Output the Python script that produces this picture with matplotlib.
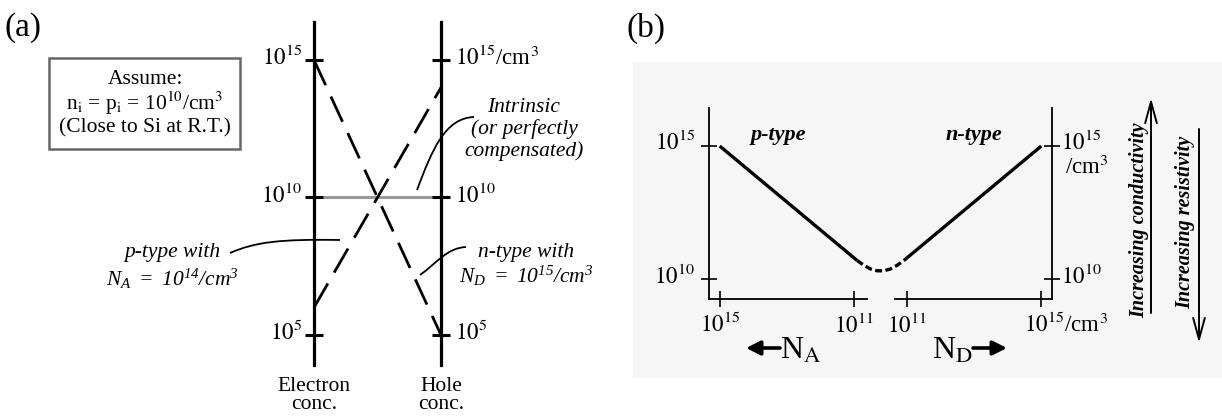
import numpy as np
import matplotlib
matplotlib.use("Agg")
import matplotlib.pyplot as plt
from matplotlib.patches import Rectangle, PathPatch
from matplotlib.path import Path
from matplotlib.ticker import NullLocator

plt.rcParams['font.family'] = ['Liberation Serif', 'DejaVu Serif']
plt.rcParams['mathtext.fontset'] = 'stix'
# 'custom' math font is only used for the italic notes (digits in italic too)
plt.rcParams['mathtext.rm'] = 'Liberation Serif:italic'
plt.rcParams['mathtext.it'] = 'Liberation Serif:italic'
plt.rcParams['mathtext.bf'] = 'Liberation Serif:bold'
plt.rcParams['lines.scale_dashes'] = False

# ---------------- (a) carrier concentrations (log10 /cm^3) ----------------
columns = ['Electron\nconc.', 'Hole\nconc.']
a_ticks = [5, 10, 15]
a_left_labels = [r'$\mathrm{10^{5}}$', r'$\mathrm{10^{10}}$', r'$\mathrm{10^{15}}$']
a_right_labels = [r'$\mathrm{10^{5}}$', r'$\mathrm{10^{10}}$', r'$\mathrm{10^{15}}$/cm$^3$']
intrinsic = [10, 10]          # n_i = p_i
n_type = [15, 5]              # N_D = 1e15 : electrons, holes
p_type = [6, 14]              # N_A = 1e14 : electrons, holes

# ---------------- (b) majority carriers vs doping ----------------
b_yticks = [10, 15]
b_xtick_logs = [15, 11]       # same for N_A (left) and N_D (right)
pside_NA = [15.0, 10.9]
pside_conc = [15.0, 10.7]
nside_ND = [10.9, 15.0]
nside_conc = [10.7, 15.0]
# compensated region, position measured from the middle of the axis
comp_pos = [-0.7, -0.5, -0.3, -0.1, 0.1, 0.3, 0.5, 0.7]
comp_conc = [10.70, 10.52, 10.38, 10.31, 10.31, 10.38, 10.52, 10.70]

OFFSET = 10.2   # where 10^10.2 would sit on either half of the split axis


def pos_p(logN):
    return -(np.asarray(logN) - OFFSET)


def pos_n(logN):
    return np.asarray(logN) - OFFSET


def sci(e):
    return r'$\mathrm{10^{%d}}$' % e


W, H = 1222, 418
fig = plt.figure(figsize=(W / 100, H / 100), dpi=100)

# overlay in pixel units for free text, boxes and leaders
ov = fig.add_axes([0, 0, 1, 1])
ov.set_xlim(0, W)
ov.set_ylim(H, 0)
ov.axis('off')

ov.add_patch(Rectangle((633, 62), 589, 316, color='#f6f6f6', lw=0, zorder=0))

ov.text(5, 28, '(a)', fontsize=24, va='center', ha='left')
ov.text(627, 28, '(b)', fontsize=24, va='center', ha='left')

# assumption box
ov.add_patch(Rectangle((49, 58), 191, 91, fill=False, edgecolor='#666666', lw=1.8))
ov.text(145, 80, 'Assume:', fontsize=15.5, ha='center', va='center')
ov.text(145, 103, r'n$_\mathrm{i}$ = p$_\mathrm{i}$ = 10$^{10}$/cm$^3$', fontsize=15.5,
        ha='center', va='center')
ov.text(145, 128, '(Close to Si at R.T.)', fontsize=15.5, ha='center', va='center')

# italic annotations
for i, s in enumerate(['Intrinsic', '(or perfectly', 'compensated)']):
    ov.text(524, 107 + 22 * i, s, fontsize=15.5, style='italic', ha='center', va='center')
ov.text(526, 252, 'n-type with', fontsize=15.5, style='italic', ha='center', va='center')
ov.text(526, 276, r'$\mathrm{N_D\ =\ 10^{15}/cm^3}$', fontsize=15.5, ha='center',
        va='center', math_fontfamily='custom')
ov.text(172, 253, 'p-type with', fontsize=15.5, style='italic', ha='center', va='center')
ov.text(172, 279, r'$\mathrm{N_A\ =\ 10^{14}/cm^3}$', fontsize=15.5, ha='center',
        va='center', math_fontfamily='custom')


def leader(pts):
    codes = [Path.MOVETO, Path.CURVE4, Path.CURVE4, Path.CURVE4]
    ov.add_patch(PathPatch(Path(pts, codes), fill=False, lw=1.3, color='k', zorder=5))


leader([(417, 190), (432, 150), (445, 118), (474, 117)])
leader([(420, 275), (438, 262), (447, 248), (466, 247)])
leader([(230, 253), (255, 242), (280, 239), (340, 240)])

# N_A / N_D arrows
arrow_kw = dict(arrowstyle='-|>,head_length=0.6,head_width=0.3', lw=2.6, color='k',
                shrinkA=0, shrinkB=0, mutation_scale=14)
ov.annotate('', xy=(746, 348), xytext=(780, 348), arrowprops=arrow_kw)
ov.annotate('', xy=(1007, 348), xytext=(973, 348), arrowprops=arrow_kw)
ov.text(780, 351, r'N$_\mathrm{A}$', fontsize=23, ha='left', va='center')
ov.text(973, 351, r'N$_\mathrm{D}$', fontsize=23, ha='right', va='center')

# conductivity / resistivity arrows
open_kw = dict(arrowstyle='->,head_length=1.1,head_width=0.3', lw=1.4, color='k',
               shrinkA=0, shrinkB=0, mutation_scale=14)
ov.annotate('', xy=(1151, 98), xytext=(1151, 313), arrowprops=open_kw)
ov.annotate('', xy=(1199, 343), xytext=(1199, 129), arrowprops=open_kw)
ov.text(1139, 220, 'Increasing conductivity', rotation=90, fontsize=14.5,
        fontweight='bold', style='italic', ha='center', va='center')
ov.text(1185, 222, 'Increasing resistivity', rotation=90, fontsize=14.5,
        fontweight='bold', style='italic', ha='center', va='center')

# ---------------- panel (a) ----------------
axa = fig.add_axes([314 / W, (H - 365) / H, 127 / W, 343 / H])
axa.patch.set_visible(False)
axa.set_xlim(0, 1)
axa.set_yscale('log')
axa.set_ylim(10 ** 3.91, 10 ** 16.38)
for side in ['top', 'bottom']:
    axa.spines[side].set_visible(False)
for side in ['left', 'right']:
    axa.spines[side].set_linewidth(2.3)
axa.set_yticks([10.0 ** t for t in a_ticks])
axa.yaxis.set_minor_locator(NullLocator())
axa.set_xticks([])
axa.tick_params(axis='y', left=True, right=True, direction='inout', length=13, width=2.2,
                labelleft=False, labelright=False)

xs = [0, 1]
axa.plot(xs, [10.0 ** v for v in intrinsic], color='#999999', lw=2.2, zorder=1)
axa.plot(xs, [10.0 ** v for v in n_type], color='k', lw=2.0, dashes=(20, 9), zorder=2,
         clip_on=False)
axa.plot(xs, [10.0 ** v for v in p_type], color='k', lw=2.0, dashes=(20, 9), zorder=2,
         clip_on=False)

for t, l_lab, r_lab in zip(a_ticks, a_left_labels, a_right_labels):
    axa.annotate(l_lab, xy=(0, 10.0 ** t), xytext=(-12, 2), textcoords='offset pixels',
                 ha='right', va='center', fontsize=16.5)
    axa.annotate(r_lab, xy=(1, 10.0 ** t), xytext=(14, 2), textcoords='offset pixels',
                 ha='left', va='center', fontsize=16.5)
for x, lab in zip(xs, columns):
    axa.text(x, -0.035, lab, transform=axa.get_xaxis_transform(), ha='center', va='top',
             fontsize=15.5, linespacing=0.95)

# ---------------- panel (b) ----------------
axb = fig.add_axes([709 / W, (H - 299) / H, 343 / W, 191 / H])
axb.patch.set_visible(False)
axb.set_xlim(-5.12, 5.12)
axb.set_yscale('log')
axb.set_ylim(10 ** 9.25, 10 ** 16.43)
for side in ['top', 'bottom']:
    axb.spines[side].set_visible(False)
for side in ['left', 'right']:
    axb.spines[side].set_linewidth(1.3)
axb.set_yticks([10.0 ** t for t in b_yticks])
axb.yaxis.set_minor_locator(NullLocator())
axb.tick_params(axis='y', left=True, right=True, direction='inout', length=12, width=1.2,
                labelleft=False, labelright=False)
xt = list(pos_p(b_xtick_logs)) + list(pos_n(b_xtick_logs[::-1]))
axb.set_xticks(xt)
axb.tick_params(axis='x', bottom=True, direction='inout', length=11, width=1.2,
                labelbottom=False)

# split bottom axis
xtr = axb.get_xaxis_transform()
axb.plot([-5.12, -0.39], [0, 0], color='k', lw=1.3, transform=xtr, clip_on=False)
axb.plot([0.43, 5.12], [0, 0], color='k', lw=1.3, transform=xtr, clip_on=False)

axb.plot(pos_p(pside_NA), [10.0 ** v for v in pside_conc], color='k', lw=2.4,
         solid_capstyle='butt')
axb.plot(pos_n(nside_ND), [10.0 ** v for v in nside_conc], color='k', lw=2.4,
         solid_capstyle='butt')
axb.plot(comp_pos, [10.0 ** v for v in comp_conc], color='k', lw=2.4, dashes=(5, 2.5))

# tick labels
for t in b_yticks:
    axb.annotate(sci(t), xy=(-5.12, 10.0 ** t), xytext=(-14, 3),
                 textcoords='offset pixels', ha='right', va='center', fontsize=16.5)
    axb.annotate(sci(t), xy=(5.12, 10.0 ** t), xytext=(9, 3),
                 textcoords='offset pixels', ha='left', va='center', fontsize=16.5)
axb.annotate(r'/cm$^3$', xy=(5.12, 10.0 ** 15), xytext=(13, -21),
             textcoords='offset pixels', ha='left', va='center', fontsize=16.5)
for x in xt[:-1]:
    axb.annotate(sci(15 if abs(x) > 3 else 11), xy=(x, 10 ** 9.25),
                 xytext=(0, -26), textcoords='offset pixels', ha='center', va='center',
                 fontsize=16.5)
axb.annotate(sci(15) + r'/cm$^3$', xy=(xt[-1], 10 ** 9.25), xytext=(-17, -26),
             textcoords='offset pixels', ha='left', va='center', fontsize=16.5)

axb.text(778, 135, 'p-type', transform=ov.transData, fontsize=16, fontweight='bold',
         style='italic', ha='center', va='center')
axb.text(974, 135, 'n-type', transform=ov.transData, fontsize=16, fontweight='bold',
         style='italic', ha='center', va='center')

fig.savefig('out.png', dpi=100)
